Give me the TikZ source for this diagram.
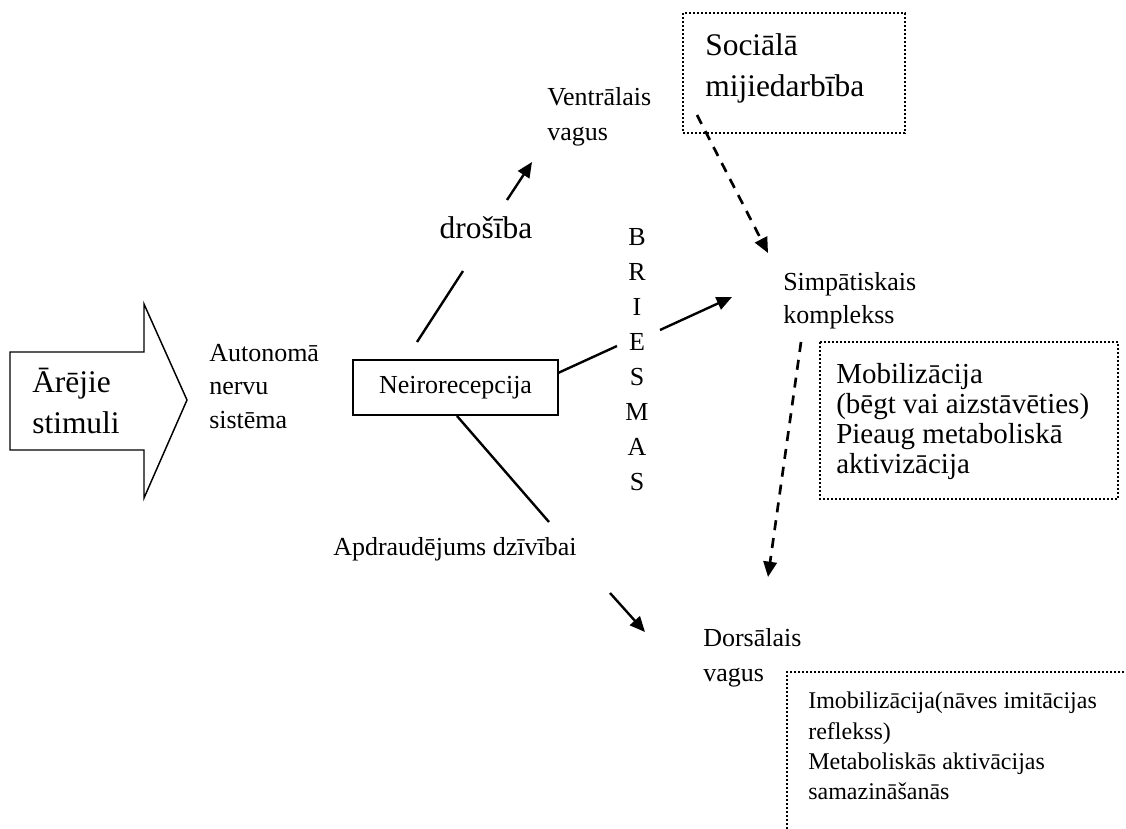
\documentclass[tikz,border=0pt]{standalone}
\usepackage{fontspec}
\setmainfont{Liberation Serif}
\usetikzlibrary{arrows.meta}
\begin{document}
\begin{tikzpicture}[x=0.75pt,y=-0.75pt,
  lbl/.style={inner sep=0pt, anchor=north west, align=left, font=\fontsize{19.5pt}{25pt}\selectfont},
  biglbl/.style={inner sep=0pt, anchor=north west, align=left, font=\fontsize{23.6pt}{31pt}\selectfont},
  conn/.style={line width=1.8pt},
  arr/.style={conn, -{Triangle[length=11.5pt,width=10pt]}},
  darr/.style={line width=2pt, dash pattern=on 7.5pt off 6pt, -{Triangle[length=11.5pt,width=10pt]}},
  dotbox/.style={line width=1.2pt, dash pattern=on 1.5pt off 1.5pt}
]
\useasboundingbox (0,0) rectangle (1126,828);
\clip (0,0) rectangle (1126,828);

% block arrow
\draw[line width=1.1pt, line join=miter] (10,352) -- (144,352) -- (144,304) -- (187,400) -- (144,498) -- (144,450) -- (10,450) -- cycle;
\node[biglbl] (stim) at (32,368) {Ārējie\\stimuli};

\node[lbl] (ans) at (209,344) {Autonomā\\nervu\\sistēma};

% Neirorecepcija
\node[draw, line width=1.1pt, minimum width=153.75pt, minimum height=41.25pt, inner sep=0pt,
      font=\fontsize{19.5pt}{25pt}\selectfont] (neiro) at (455.5,387.5) {Neirorecepcija};

\node[inner sep=0pt, anchor=base, font=\fontsize{23.6pt}{31pt}\selectfont] (dros) at (486,238) {drošība};
\node[lbl, font=\fontsize{19.5pt}{26.25pt}\selectfont] (ventr) at (547,87) {Ventrālais\\vagus};

% social box
\draw[dotbox] (683,13) rectangle (905,133);
\node[biglbl] (soc) at (705,33) {Sociālā\\mijiedarbība};

\node[lbl] (simp) at (783,272) {Simpātiskais\\komplekss};

% mobilisation box
\draw[dotbox] (820,342) rectangle (1118,499);
\node[lbl, font=\fontsize{21.75pt}{22.5pt}\selectfont] (mob) at (836,363) {Mobilizācija\\(bēgt vai aizstāvēties)\\Pieaug metaboliskā\\aktivizācija};

% BRIESMAS
\node[inner sep=0pt, anchor=north, align=center, font=\fontsize{19.5pt}{26.25pt}\selectfont] (briesmas) at (637,228) {B\\R\\I\\E\\S\\M\\A\\S};

\node[inner sep=0pt, anchor=base west, font=\fontsize{19.5pt}{25pt}\selectfont] (apdr) at (333,555) {Apdraudējums dzīvībai};

\node[lbl, font=\fontsize{19.5pt}{26.25pt}\selectfont] (dors) at (703,628) {Dorsālais\\vagus};

% immobilisation box
\draw[dotbox] (1124,672) -- (787,672) -- (787,840);
\node[lbl, font=\fontsize{18pt}{22.75pt}\selectfont] (imob) at (808,692) {Imobilizācija(nāves imitācijas\\reflekss)\\Metaboliskās aktivācijas\\samazināšanās};

% connectors
\coordinate (d1) at (417,342); \coordinate (d2) at (463,271);
\draw[conn] (d1) -- (d2);
\coordinate (v1) at (507,200); \coordinate (v2) at (532,162);
\draw[arr] (v1) -- (v2);

\coordinate (b0) at (558,373); \coordinate (b1) at (617,346);
\draw[conn] (b0) -- (b1);
\coordinate (s1) at (660,330); \coordinate (s2) at (732,297);
\draw[arr] (s1) -- (s2);

\coordinate (a0) at (457,416); \coordinate (a1) at (549,522);
\draw[conn] (a0) -- (a1);
\coordinate (t1) at (610,593); \coordinate (t2) at (645,632);
\draw[arr] (t1) -- (t2);

\coordinate (e1) at (697,115); \coordinate (e2) at (768,253);
\draw[darr] (e1) -- (e2);
\coordinate (f1) at (801,342); \coordinate (f2) at (768,577);
\draw[darr] (f1) -- (f2);
\end{tikzpicture}
\end{document}
